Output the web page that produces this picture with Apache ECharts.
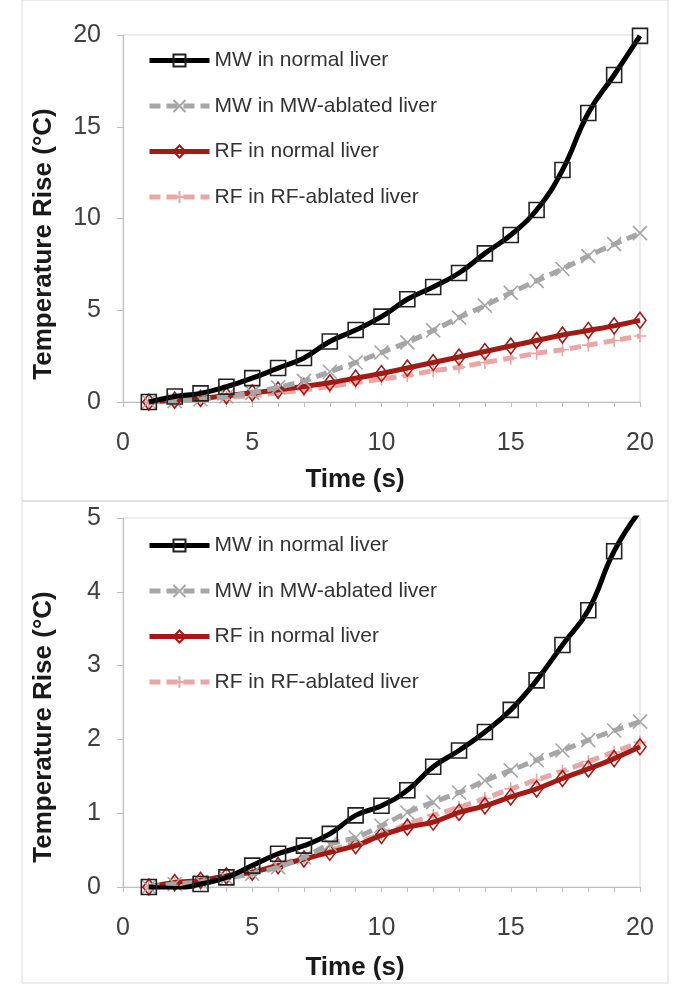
<!DOCTYPE html>
<html>
<head>
<meta charset="utf-8">
<script src="https://cdn.jsdelivr.net/npm/echarts@6/dist/echarts.min.js"></script>
<style>
  html, body { margin: 0; padding: 0; background: #fff; }
  #chart { width: 689px; height: 1007px; }
</style>
</head>
<body>
<div id="chart"></div>
<script>
// time (s)
const timeS = [1, 2, 3, 4, 5, 6, 7, 8, 9, 10, 11, 12, 13, 14, 15, 16, 17, 18, 19, 20];
const seriesNames = ["MW in normal liver", "MW in MW-ablated liver", "RF in normal liver", "RF in RF-ablated liver"];

// top panel (°C)
const topMwNormal = [0, 0.3, 0.47, 0.83, 1.3, 1.85, 2.4, 3.3, 3.92, 4.65, 5.6, 6.27, 7.03, 8.1, 9.1, 10.46, 12.64, 15.75, 17.82, 19.95];
const topMwAblated = [0, 0.05, 0.15, 0.3, 0.5, 0.8, 1.15, 1.65, 2.15, 2.7, 3.25, 3.9, 4.6, 5.25, 5.95, 6.6, 7.25, 7.95, 8.6, 9.2];
const topRfNormal = [0, 0.1, 0.2, 0.35, 0.5, 0.65, 0.85, 1.05, 1.3, 1.55, 1.85, 2.15, 2.45, 2.75, 3.05, 3.35, 3.65, 3.9, 4.15, 4.45];
const topRfAblated = [0, 0.05, 0.15, 0.25, 0.35, 0.5, 0.65, 0.85, 1.05, 1.25, 1.45, 1.7, 1.9, 2.15, 2.4, 2.65, 2.85, 3.1, 3.35, 3.6];

// bottom panel (°C)
const botMwNormal = [0, -0.02, 0.04, 0.13, 0.29, 0.45, 0.56, 0.72, 0.97, 1.1, 1.31, 1.63, 1.85, 2.1, 2.4, 2.8, 3.28, 3.75, 4.55, 5.1];
const botMwAblated = [0, 0.04, 0.07, 0.12, 0.18, 0.27, 0.4, 0.58, 0.67, 0.83, 1.01, 1.15, 1.28, 1.44, 1.58, 1.72, 1.85, 1.99, 2.12, 2.24];
const botRfNormal = [0, 0.06, 0.09, 0.15, 0.2, 0.29, 0.38, 0.47, 0.56, 0.7, 0.81, 0.88, 1.01, 1.1, 1.22, 1.33, 1.47, 1.6, 1.74, 1.9];
const botRfAblated = [0, 0.05, 0.08, 0.14, 0.2, 0.3, 0.4, 0.5, 0.6, 0.72, 0.85, 0.97, 1.08, 1.2, 1.33, 1.45, 1.57, 1.7, 1.83, 1.96];

const font = "Liberation Sans, Arial, sans-serif";
const colors = ["#000000", "#a6a6a6", "#a31a15", "#eba5a5"];
const symX = "path://M0,0L10,10M10,0L0,10";
const symPlus = "path://M5,0L5,10M0,5L10,5";
const lineTypes = ["solid", [11, 6], "solid", [11, 6]];

function pairs(vals) {
  return timeS.map((t, i) => [t, vals[i]]);
}

function makeSeries(idx, vals) {
  const base = [
    { symbol: "rect", symbolSize: 15, smooth: 0.45 },
    { symbol: symX, symbolSize: 14, smooth: 0.3 },
    { symbol: "diamond", symbolSize: [12, 16], smooth: 0.3 },
    { symbol: symPlus, symbolSize: 13, smooth: 0.3 }
  ];
  return seriesNames.map((name, k) => ({
    name: name,
    type: "line",
    xAxisIndex: idx,
    yAxisIndex: idx,
    data: pairs(vals[k]),
    smooth: base[k].smooth,
    symbol: base[k].symbol,
    symbolSize: base[k].symbolSize,
    showAllSymbol: true,
    z: 10 - k,
    lineStyle: { color: colors[k], width: 5, type: lineTypes[k] },
    itemStyle: {
      color: "rgba(255,255,255,0)",
      borderColor: k === 0 ? "#222" : colors[k],
      borderWidth: 1.6
    }
  }));
}

function xAx(idx) {
  return {
    type: "value",
    gridIndex: idx,
    min: 0,
    max: 20,
    interval: 5,
    axisLine: { lineStyle: { color: "#bfbfbf", width: 1 } },
    axisTick: { show: true, length: 5, inside: false, lineStyle: { color: "#bfbfbf" } },
    minorTick: { show: true, splitNumber: 5, length: 5, lineStyle: { color: "#bfbfbf" } },
    splitLine: { show: false },
    axisLabel: { fontSize: 25, color: "#404040", fontFamily: font, margin: 29 }
  };
}

function yAx(idx, max, interval) {
  return {
    type: "value",
    gridIndex: idx,
    min: 0,
    max: max,
    interval: interval,
    axisLine: { show: true, lineStyle: { color: "#bfbfbf", width: 1 } },
    axisTick: { show: true, length: 6, lineStyle: { color: "#bfbfbf" } },
    splitLine: { show: false },
    axisLabel: { fontSize: 25, color: "#404040", fontFamily: font, margin: 22 }
  };
}

function legendAt(top) {
  return {
    data: seriesNames.map((n, k) => ({
      name: n,
      lineStyle: { width: 5, color: colors[k], type: lineTypes[k] }
    })),
    orient: "vertical",
    left: 147,
    top: top,
    padding: 0,
    itemWidth: 60,
    itemHeight: 15,
    itemGap: 24.5,
    selectedMode: false,
    textStyle: { fontSize: 21, color: "#333", fontFamily: font }
  };
}

function title(text, x, y, rot) {
  return {
    type: "text",
    x: x,
    y: y,
    rotation: rot,
    style: {
      text: text,
      fill: "#1a1a1a",
      font: "bold 26px " + font,
      align: "center",
      verticalAlign: "middle"
    }
  };
}

const option = {
  animation: false,
  backgroundColor: "#fff",
  grid: [
    { left: 123, right: 49, top: 35, height: 367, show: true, borderColor: "#d9d9d9", borderWidth: 1 },
    { left: 123, right: 49, top: 518, height: 369, show: true, borderColor: "#d9d9d9", borderWidth: 1 }
  ],
  xAxis: [xAx(0), xAx(1)],
  yAxis: [yAx(0, 20, 5), yAx(1, 5, 1)],
  legend: [legendAt(50), legendAt(535)],
  graphic: [
    { type: "rect", shape: { x: 22, y: 0, width: 646, height: 501 }, style: { fill: "none", stroke: "#d9d9d9", lineWidth: 1 }, z: -1 },
    { type: "rect", shape: { x: 22, y: 501, width: 646, height: 482 }, style: { fill: "none", stroke: "#d9d9d9", lineWidth: 1 }, z: -1 },
    title("Temperature Rise (°C)", 44, 244, Math.PI / 2),
    title("Time (s)", 355, 480, 0),
    title("Temperature Rise (°C)", 44, 727, Math.PI / 2),
    title("Time (s)", 355, 968, 0)
  ],
  series: makeSeries(0, [topMwNormal, topMwAblated, topRfNormal, topRfAblated])
    .concat(makeSeries(1, [botMwNormal, botMwAblated, botRfNormal, botRfAblated]))
};

const chartObj = echarts.init(document.getElementById("chart"), null, { renderer: "canvas" });
chartObj.setOption(option);
</script>
</body>
</html>
